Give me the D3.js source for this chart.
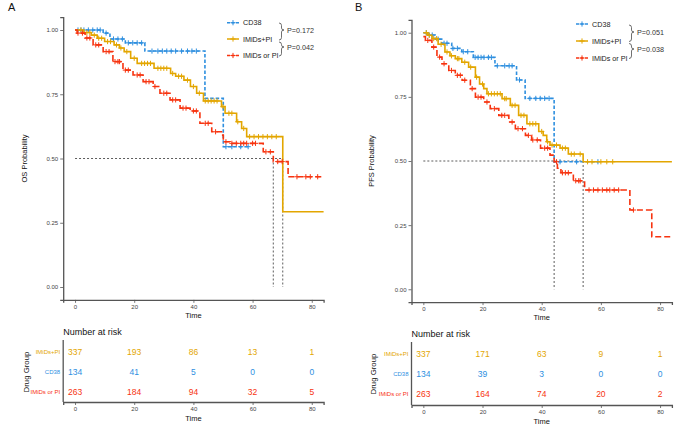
<!DOCTYPE html>
<html><head><meta charset="utf-8">
<script src="https://cdn.jsdelivr.net/npm/d3@7"></script>
<style>body{margin:0;background:#fff}svg{display:block;font-family:"Liberation Sans",Arial,sans-serif}</style>
</head><body>
<svg id="chart" width="685" height="426"></svg>
<script>
// ---------- DATA ----------
const groups = ["CD38", "IMiDs+PI", "IMiDs or PI"];
const riskRows = ["IMiDs+PI", "CD38", "IMiDs or PI"];
const timeTicks = [0, 20, 40, 60, 80];
const probTicks = [0, 0.25, 0.5, 0.75, 1];
const probTickLabels = ["0.00", "0.25", "0.50", "0.75", "1.00"];

// Panel A (OS) step functions [time, survival]
const osCD38 = [[0,1],[9.5,0.988],[11.8,0.965],[17,0.95],[23.6,0.918],[43.9,0.734],[50.1,0.546]];
const osCD38End = 59;
const osCD38Cens = [1,2,3,4.5,6,7.5,8.5,10.5,13,14.5,16,18,19.5,21,22.5,26,28,29.5,31,32.5,34,36,38,39.5,41,51,53,56,58.5];
const osIP = [[0,1],[3,0.99],[5.5,0.98],[7.5,0.968],[10,0.955],[13.2,0.942],[15,0.93],[16.6,0.916],[18.8,0.89],[21,0.87],[26.7,0.851],[32.3,0.831],[34,0.82],[36.8,0.805],[39,0.78],[41.1,0.754],[43.4,0.724],[49.5,0.702],[50.7,0.676],[54.6,0.643],[56.3,0.617],[58,0.585],[70.2,0.293]];
const osIPEnd = 84;
const osIPCens = [2,4,5,6.5,8,9,11,12,14,15.5,17.5,20,22.5,23.5,24.5,25.5,28,29,30,31,33,35,36,38,40,42,44,45,46,47,48,50,52,53,55,57,59,60.5,62,63.5,65,66.5,68];
const osIOP = [[0,1],[0.7,0.988],[3.4,0.969],[6.1,0.942],[9.5,0.916],[12.8,0.877],[16.2,0.844],[19.6,0.825],[23,0.799],[26.4,0.78],[28.7,0.754],[32.1,0.728],[35.5,0.696],[38.9,0.685],[42.2,0.637],[46.2,0.604],[49.5,0.591],[50.1,0.565],[52.4,0.559],[63.6,0.526],[67,0.488],[72,0.429]];
const osIOPEnd = 84;
const osIOPCens = [1,2.5,4,5,7,8,10.5,11.5,13.5,14.5,15,17,18,21,22,24,25,27,30,31,33,34,36.5,37.5,40,41,44,45,47.5,51,53,54.5,56,57,58,60,61,64.5,66,68.5,70,75,78,79.5,82];
const osMedians = [67, 70.2];
const osMedianY = 0.5;

// Panel B (PFS)
const pfsCD38 = [[0,1],[1.6,0.991],[4,0.975],[6.2,0.959],[9.6,0.939],[13,0.926],[16.9,0.904],[24.2,0.871],[31.5,0.816],[34.4,0.744],[44.2,0.497]];
const pfsCD38End = 59;
const pfsCD38Cens = [1,2,3,5,7,8,10,11.5,13.5,15,17.5,18.5,19.5,20.5,22,23,25,27.5,29,30,32.5,36,38,39.5,41,42.5,46.2,51.8,59];
const pfsIP = [[0,1],[1.5,0.99],[2.9,0.977],[5,0.955],[7.3,0.925],[9,0.91],[10.8,0.899],[13,0.885],[15.3,0.866],[17.6,0.827],[19,0.8],[20.4,0.782],[21.5,0.762],[26.6,0.743],[29.4,0.717],[32.2,0.678],[35,0.645],[39,0.615],[40.5,0.6],[41.7,0.575],[42.8,0.562],[46.2,0.55],[49,0.527],[54,0.497]];
const pfsIPEnd = 84;
const pfsIPCens = [1,2,3.5,4.5,6,8,9.5,11.5,12,14,16,18,20,22,23,24,25,26,27.5,28,30,31,33,34,36,37,38,40,42,43.5,45,47,48,50,51,53,55.5,57,60,62,64];
const pfsIOP = [[0,0.985],[0.7,0.97],[2.9,0.944],[4.6,0.905],[6.3,0.879],[8.6,0.853],[10.8,0.834],[13.1,0.815],[15.9,0.782],[17.6,0.749],[20.4,0.73],[22.6,0.704],[25.5,0.678],[28.9,0.652],[31.1,0.626],[34.5,0.6],[36.6,0.582],[39.6,0.55],[42.8,0.523],[44.2,0.497],[45.3,0.472],[46.5,0.454],[50.7,0.423],[54.5,0.387],[69.8,0.309],[77.2,0.205]];
const pfsIOPEnd = 84;
const pfsIOPCens = [1.5,3.5,5.5,7,9.5,11.5,12.5,14,16.5,18.5,19.5,21.5,24,26.5,27.5,30,32,33.5,35.5,37,38.5,41,42,45,47,48,49,51.5,52.5,53,56,57.5,59,60.5,62,63,64.5,66,71];
const pfsMedians = [44.2, 54];
const pfsMedianY = 0.5;

// Numbers at risk
const riskA_IP = [337, 193, 86, 13, 1];
const riskA_CD38 = [134, 41, 5, 0, 0];
const riskA_IOP = [263, 184, 94, 32, 5];
const riskB_IP = [337, 171, 63, 9, 1];
const riskB_CD38 = [134, 39, 3, 0, 0];
const riskB_IOP = [263, 164, 74, 20, 2];

const pA = ["P=0.172", "P=0.042"];
const pB = ["P=0.051", "P=0.038"];

// ---------- STYLE ----------
const color = {"CD38": "#2E8FDF", "IMiDs+PI": "#E3A600", "IMiDs or PI": "#F7330F"};
const dash = {"CD38": "3.5,2", "IMiDs+PI": null, "IMiDs or PI": "6,3"};
const axisCol = "#555";

const svg = d3.select("#chart");

function stepAt(steps, t) {
  let v = steps[0][1];
  for (const s of steps) { if (s[0] <= t) v = s[1]; }
  return v;
}

function styleAxis(g) {
  g.select(".domain").attr("stroke", axisCol).attr("stroke-width", 1.3);
  g.selectAll(".tick line").attr("stroke", axisCol).attr("stroke-width", 0.8);
  g.selectAll(".tick text").attr("fill", "#444").style("font-size", "6px").style("font-family", "Liberation Sans, Arial, sans-serif");
}

function plus(g, x, y, c) {
  g.append("path").attr("d", `M${x-2.6},${y}H${x+2.6}M${x},${y-2.6}V${y+2.6}`)
    .attr("stroke", c).attr("stroke-width", 1).attr("fill", "none");
}

function drawPanel(cfg) {
  const x = d3.scaleLinear().domain([-4, 84]).range(cfg.xr);
  const y = d3.scaleLinear().domain([-0.05, 1.05]).range(cfg.yr);
  const g = svg.append("g");

  svg.append("text").attr("x", cfg.letterX).attr("y", 11).text(cfg.letter)
    .style("font-size", "11px").attr("fill", "#111");

  const ax = g.append("g").attr("transform", `translate(0,${cfg.yr[0]})`)
    .call(d3.axisBottom(x).tickValues(timeTicks).tickSize(3).tickPadding(2).tickFormat(d3.format("d")));
  styleAxis(ax);
  const ay = g.append("g").attr("transform", `translate(${cfg.xr[0]},0)`)
    .call(d3.axisLeft(y).tickValues(probTicks).tickSize(3).tickPadding(2).tickFormat((d, i) => probTickLabels[i]));
  styleAxis(ay);

  g.append("text").attr("x", x(40)).attr("y", cfg.yr[0] + 18).attr("text-anchor", "middle")
    .style("font-size", "7.5px").attr("fill", "#111").text("Time");
  g.append("text").attr("transform", `translate(${cfg.ylabX},${(cfg.yr[0] + cfg.yr[1]) / 2}) rotate(-90)`)
    .attr("text-anchor", "middle").style("font-size", "7.5px").attr("fill", "#111").text(cfg.ylab);

  const mlines = g.append("g").attr("stroke", "#333").attr("stroke-width", 0.8).attr("stroke-dasharray", "2,2").attr("fill", "none");
  mlines.append("line").attr("x1", x(0)).attr("x2", x(d3.max(cfg.medians))).attr("y1", y(cfg.medianY)).attr("y2", y(cfg.medianY));
  cfg.medians.forEach(m => {
    mlines.append("line").attr("x1", x(m)).attr("x2", x(m)).attr("y1", y(cfg.medianY)).attr("y2", y(0));
  });

  const line = d3.line().x(d => x(d[0])).y(d => y(d[1])).curve(d3.curveStepAfter);
  cfg.curves.forEach(c => {
    const pts = c.steps.concat([[c.end, c.steps[c.steps.length - 1][1]]]);
    g.append("path").datum(pts).attr("d", line).attr("fill", "none")
      .attr("stroke", color[c.name]).attr("stroke-width", 1.6)
      .attr("stroke-dasharray", dash[c.name]);
    const cg = g.append("g");
    c.cens.forEach(t => plus(cg, x(t), y(stepAt(c.steps, t)), color[c.name]));
  });

  // legend
  const lg = g.append("g");
  groups.forEach((name, i) => {
    const ly = cfg.legY[i];
    lg.append("line").attr("x1", cfg.legX).attr("x2", cfg.legX + 12).attr("y1", ly).attr("y2", ly)
      .attr("stroke", color[name]).attr("stroke-width", 1.5).attr("stroke-dasharray", dash[name] ? "3,1.5" : null);
    plus(lg, cfg.legX + 6, ly, color[name]);
    lg.append("text").attr("x", cfg.legX + 16).attr("y", ly + 2.6).style("font-size", "7.2px").attr("fill", "#222").text(name);
  });
  function brace(x0, y1, y2, ym) {
    return `M${x0},${y1} Q${x0+2.5},${y1} ${x0+2.5},${y1+2.5} L${x0+2.5},${ym-2} Q${x0+2.5},${ym} ${x0+5},${ym} Q${x0+2.5},${ym} ${x0+2.5},${ym+2} L${x0+2.5},${y2-2.5} Q${x0+2.5},${y2} ${x0},${y2}`;
  }
  cfg.braces.forEach((b, i) => {
    lg.append("path").attr("d", brace(cfg.braceX, b[0], b[1], b[2])).attr("fill", "none").attr("stroke", "#333").attr("stroke-width", 0.7);
    lg.append("text").attr("x", cfg.braceX + 8).attr("y", b[2] + 2.6).style("font-size", "7.2px").attr("fill", "#333").text(cfg.pvals[i]);
  });

  // risk table
  const rt = svg.append("g");
  const ry = d3.scalePoint().domain(riskRows).range(cfg.riskRowsY);
  rt.append("text").attr("x", cfg.xr[0]).attr("y", cfg.riskTitleY).style("font-size", "9px").attr("fill", "#111").text("Number at risk");
  const rax = rt.append("g").attr("transform", `translate(0,${cfg.riskBottom})`)
    .call(d3.axisBottom(x).tickValues(timeTicks).tickSize(3).tickPadding(2).tickFormat(d3.format("d")));
  styleAxis(rax);
  rt.append("line").attr("x1", cfg.xr[0]).attr("x2", cfg.xr[0]).attr("y1", cfg.riskTop).attr("y2", cfg.riskBottom)
    .attr("stroke", axisCol).attr("stroke-width", 1.3);
  rt.append("text").attr("x", x(40)).attr("y", cfg.riskBottom + 18.5).attr("text-anchor", "middle")
    .style("font-size", "7.5px").attr("fill", "#111").text("Time");
  riskRows.forEach(name => {
    rt.append("text").attr("x", cfg.xr[0] - 3).attr("y", ry(name) + 2).attr("text-anchor", "end")
      .style("font-size", "6px").attr("fill", color[name]).text(name);
    cfg.risk[name].forEach((v, i) => {
      rt.append("text").attr("x", x(timeTicks[i])).attr("y", ry(name) + 3.2).attr("text-anchor", "middle")
        .style("font-size", "8.5px").attr("fill", color[name]).text(v);
    });
  });
  rt.append("text").attr("transform", `translate(${cfg.ylabX + 2},${(cfg.riskRowsY[0] + cfg.riskRowsY[1]) / 2}) rotate(-90)`)
    .attr("text-anchor", "middle").style("font-size", "7.8px").attr("fill", "#111").text("Drug Group");
}

drawPanel({
  letter: "A", letterX: 8, xr: [63.2, 323.6], yr: [299.85, 17.15], ylab: "OS Probability", ylabX: 27,
  medians: osMedians, medianY: osMedianY,
  curves: [
    {name: "CD38", steps: osCD38, end: osCD38End, cens: osCD38Cens},
    {name: "IMiDs+PI", steps: osIP, end: osIPEnd, cens: osIPCens},
    {name: "IMiDs or PI", steps: osIOP, end: osIOPEnd, cens: osIOPCens}
  ],
  legX: 227, legY: [22.7, 39, 55.5], braceX: 279, braces: [[23, 40, 30], [42, 56, 47]], pvals: pA,
  riskRowsY: [352, 392], riskTitleY: 335, riskTop: 340, riskBottom: 402,
  risk: {"IMiDs+PI": riskA_IP, "CD38": riskA_CD38, "IMiDs or PI": riskA_IOP}
});

drawPanel({
  letter: "B", letterX: 355, xr: [411.5, 671.9], yr: [302.1, 19.9], ylab: "PFS Probability", ylabX: 374,
  medians: pfsMedians, medianY: pfsMedianY,
  curves: [
    {name: "CD38", steps: pfsCD38, end: pfsCD38End, cens: pfsCD38Cens},
    {name: "IMiDs+PI", steps: pfsIP, end: pfsIPEnd, cens: pfsIPCens},
    {name: "IMiDs or PI", steps: pfsIOP, end: pfsIOPEnd, cens: pfsIOPCens}
  ],
  legX: 576, legY: [24, 41, 58], braceX: 629, braces: [[25, 41.5, 32], [43.5, 58.5, 49]], pvals: pB,
  riskRowsY: [354, 394], riskTitleY: 337, riskTop: 342, riskBottom: 405,
  risk: {"IMiDs+PI": riskB_IP, "CD38": riskB_CD38, "IMiDs or PI": riskB_IOP}
});
</script>
</body></html>
